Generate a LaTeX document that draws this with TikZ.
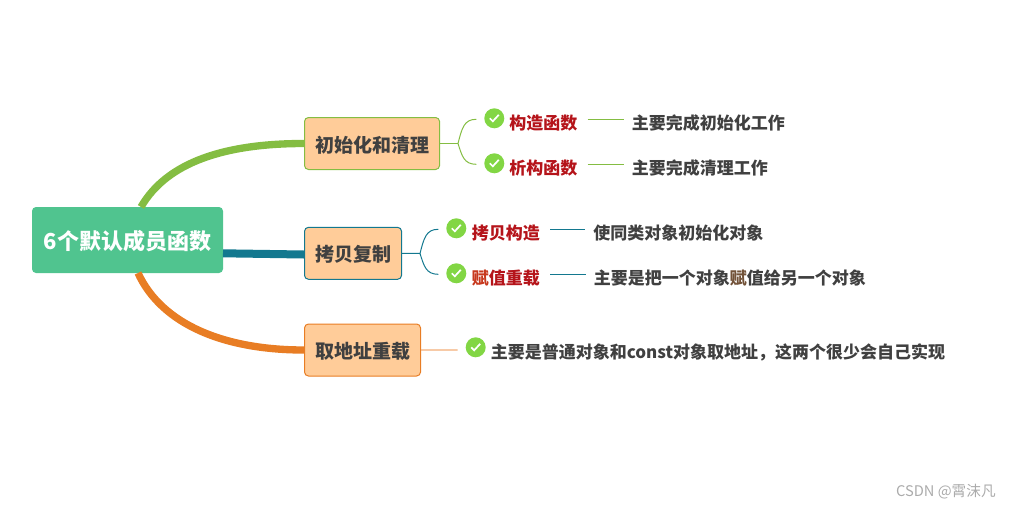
\documentclass[tikz,border=0pt]{standalone}
\usepackage{fontspec}
\setmainfont{Noto Sans CJK SC}
\definecolor{rootgreen}{HTML}{50C48F}
\definecolor{boxfill}{HTML}{FFCC99}
\definecolor{leafgreen}{HTML}{84BD42}
\definecolor{leafteal}{HTML}{13788F}
\definecolor{leaforange}{HTML}{E87D24}
\definecolor{paleorange}{HTML}{F2AE78}
\definecolor{iconmark}{HTML}{82D644}
\definecolor{labelred}{HTML}{B5141A}
\definecolor{bodygray}{HTML}{404040}
\begin{document}
\begin{tikzpicture}[x=0.75pt, y=-0.75pt, font=\bfseries]
	\tikzset{
		rootbox/.style={fill=rootgreen, rounded corners=3pt, minimum width=143.25pt, minimum height=49.5pt, inner sep=0pt, text height=14pt, text depth=0pt, text=white, font=\fontsize{16.5pt}{18pt}\bfseries},
		topic/.style={draw=#1, fill=boxfill, rounded corners=3pt, line width=0.75pt, anchor=west, minimum height=39pt, inner xsep=7.9pt, inner ysep=0pt, text height=13pt, text depth=0pt, text=bodygray, font=\fontsize{14.25pt}{16pt}\bfseries},
		tick/.style={circle, fill=iconmark, minimum size=15pt, inner sep=0pt, outer sep=6pt, path picture={
			\draw[white, line width=1.3pt] ([shift={(-4.5,0)}]path picture bounding box.center) -- ++(3,3) -- ++(6,-6.5);}},
		leaf/.style={anchor=west, inner ysep=0pt, inner xsep=7.5pt, text height=15pt, text depth=0pt, text=labelred, font=\fontsize{12.75pt}{14pt}\bfseries},
		note/.style={anchor=west, inner ysep=0pt, inner xsep=6pt, text height=15pt, text depth=0pt, text=bodygray, font=\fontsize{12.75pt}{14pt}\bfseries},
		trunk/.style={line width=#1, line cap=butt},
		twig/.style={draw=#1, line width=0.75pt}
	}
	\useasboundingbox (0,0) rectangle (1011,508);
	% main boxes
	\node[rootbox] (root) at (127.5,240) {6个默认成员函数};
	\node[topic=leafgreen] (init) at (304,143.5) {初始化和清理};
	\node[topic=leafteal] (copy) at (304,253.3) {拷贝复制};
	\node[topic=leaforange] (addr) at (304,350) {取地址重载};
	% thick branches
	\coordinate (rootup) at (141,207);
	\coordinate (rootright) at (223,253.3);
	\coordinate (rootdown) at (138,273);
	\draw[trunk=5.5pt, leafgreen] (rootup) .. controls (167,162) and (225,143.5) .. (init.west);
	\draw[trunk=6pt, leafteal] (rootright) -- ([yshift=-0.9pt]copy.west);
	\draw[trunk=5.5pt, leaforange] (rootdown) .. controls (162,325) and (225,350) .. (addr.west);
	% first group
	\node[tick] (iconA) at (494.3,118.3) {};
	\node[tick] (iconB) at (494.3,163.3) {};
	\node[leaf] (ctor) at (499,119.3) {构造函数};
	\node[leaf] (dtor) at (499,164.3) {析构函数};
	\node[note] (ctornote) at (623.5,119.3) {主要完成初始化工作};
	\node[note] (dtornote) at (623.5,164.3) {主要完成清理工作};
	\coordinate (forkA) at (458,143.5);
	\draw[twig=leafgreen] (init.east) -- (forkA);
	\draw[twig=leafgreen] (forkA) .. controls (462,128) and (464,119.3) .. ([yshift=-0.75pt]iconA.west);
	\draw[twig=leafgreen] (forkA) .. controls (462,156) and (464,164.3) .. ([yshift=-0.75pt]iconB.west);
	\draw[twig=leafgreen] (ctor) -- (ctornote);
	\draw[twig=leafgreen] (dtor) -- (dtornote);
	% second group
	\node[tick] (iconC) at (456.3,228.3) {};
	\node[tick] (iconD) at (456.3,273.3) {};
	\node[leaf] (cctor) at (461.5,229.3) {拷贝构造};
	\node[leaf] (assign) at (461.5,274.3) {\textcolor{leaforange!35!labelred}{赋}值重载};
	\node[note] (cctornote) at (585,229.3) {使同类对象初始化对象};
	\node[note] (assignnote) at (585.5,274.3) {主要是把一个对象\textcolor{leaforange!30!bodygray}{赋}值给另一个对象};
	\coordinate (forkB) at (420,253.5);
	\draw[twig=leafteal] (copy.east) -- (forkB);
	\draw[twig=leafteal] (forkB) .. controls (424,238) and (426,229.3) .. ([yshift=-0.75pt]iconC.west);
	\draw[twig=leafteal] (forkB) .. controls (424,266) and (426,274.3) .. ([yshift=-0.75pt]iconD.west);
	\draw[twig=leafteal] (cctor) -- (cctornote);
	\draw[twig=leafteal] (assign) -- (assignnote);
	% third group
	\node[tick] (iconE) at (475.7,347.3) {};
	\node[note] (addrnote) at (482.5,348.3) {主要是普通对象和const对象取地址，这两个很少会自己实现};
	\draw[paleorange, line width=0.9pt] (addr.east) -- ([yshift=-2pt]iconE.west);
	% mark in the corner
	\node[anchor=east, inner sep=0pt, text=black!33, font=\fontsize{11pt}{12pt}\mdseries] (mark) at (996,491.5) {CSDN @霄沫凡};
\end{tikzpicture}
\end{document}
